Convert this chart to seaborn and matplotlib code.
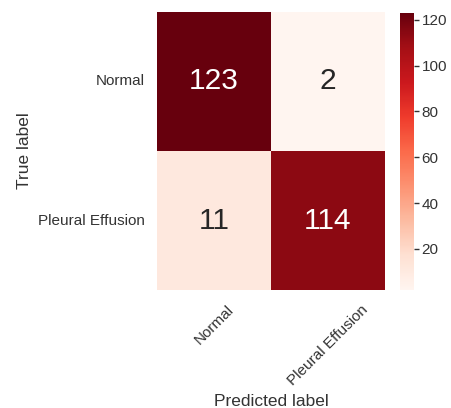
import numpy as np
import pandas as pd
import matplotlib
matplotlib.use("Agg")
import matplotlib.pyplot as plt
import seaborn as sns

# Confusion matrix for the two-class chest X-ray classifier
class_names = ["Normal", "Pleural Effusion"]
normal_row = [123, 2]
effusion_row = [11, 114]

cm = pd.DataFrame([normal_row, effusion_row], index=class_names, columns=class_names)

sns.set_theme(style="white")
plt.rcParams["font.family"] = ["Liberation Sans", "DejaVu Sans"]
text_color = ".2"

fig = plt.figure(figsize=(4.51, 4.08), dpi=100)
ax = fig.add_axes([0.3481, 0.2892, 0.5055, 0.6814])
cax = fig.add_axes([0.8869, 0.2892, 0.031, 0.679])

sns.heatmap(cm, annot=True, fmt="d", cmap="Reds", ax=ax, cbar_ax=cax,
            annot_kws={"fontsize": 21.5})

ax.set_xlabel("Predicted label", fontsize=12.5, color=text_color)
ax.set_ylabel("True label", fontsize=12.5, color=text_color, labelpad=4)
ax.tick_params(axis="both", length=0, labelsize=11, colors=text_color, pad=9)
plt.setp(ax.get_xticklabels(), rotation=45, ha="center", rotation_mode="default")
plt.setp(ax.get_yticklabels(), rotation=0)

cax.set_yticks([20, 40, 60, 80, 100, 120])
cax.tick_params(axis="y", length=3.5, width=1, colors=text_color, labelsize=11, pad=2)

fig.savefig("out.png", dpi=100)
